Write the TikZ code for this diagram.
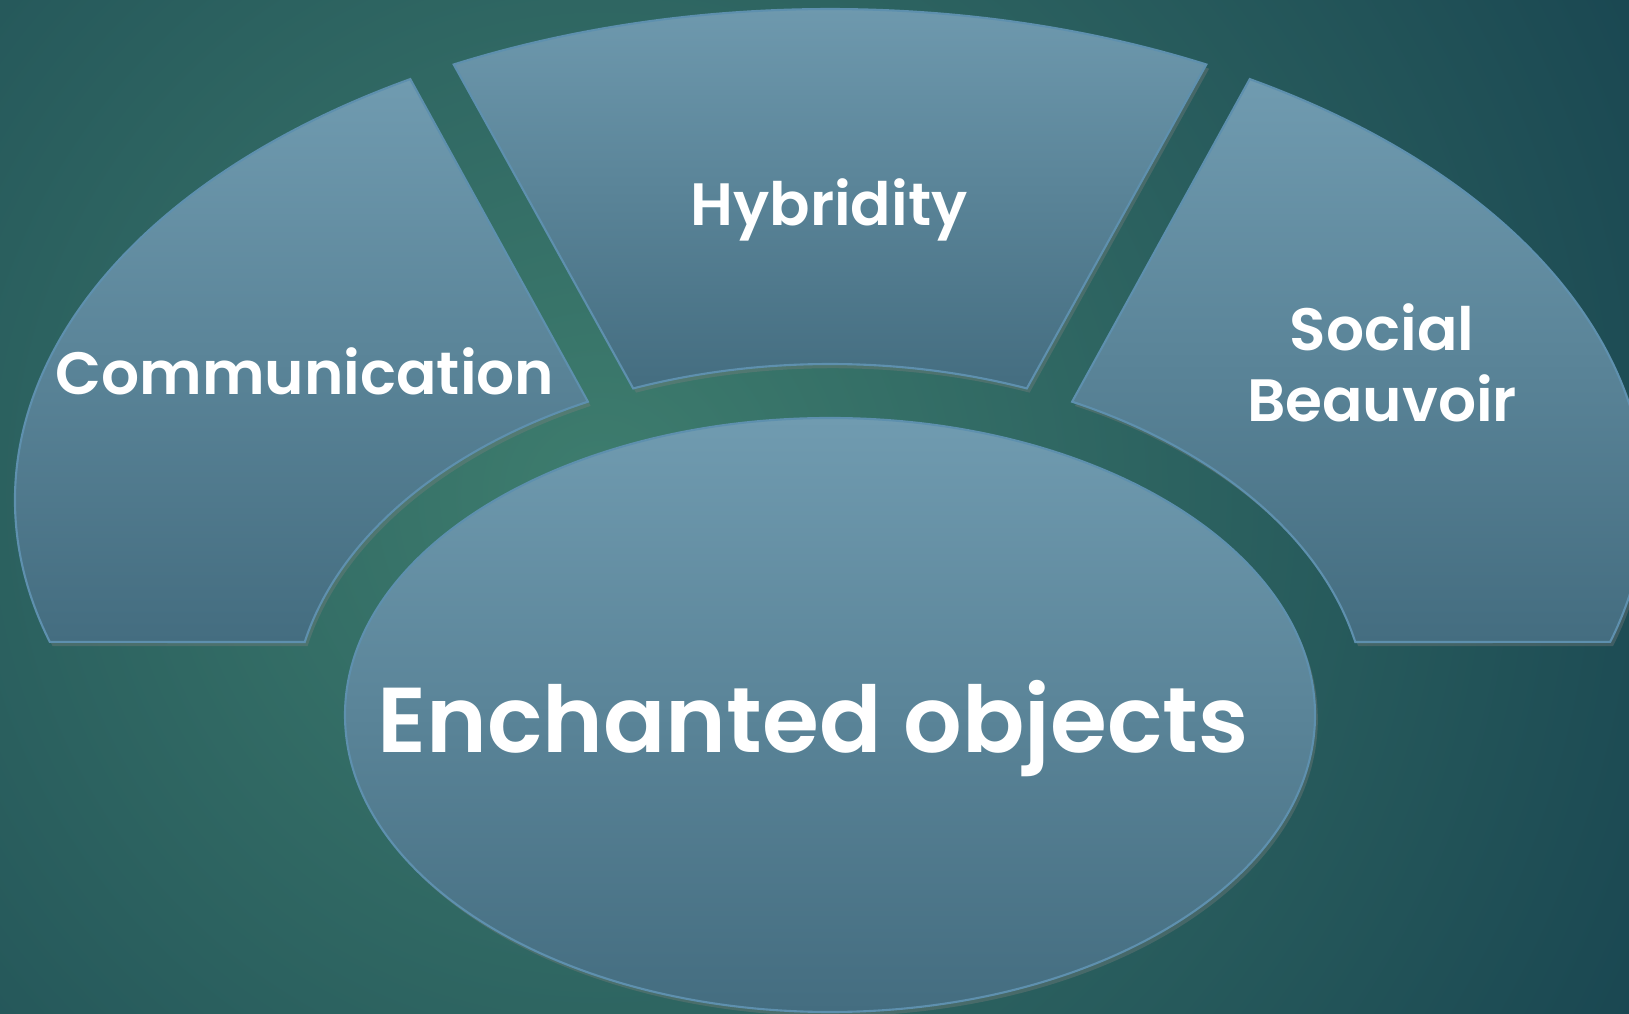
\documentclass[tikz,border=0pt]{standalone}
\usepackage{fontspec}
\setmainfont{Poppins}[BoldFont={Poppins SemiBold}]
\usetikzlibrary{shapes.geometric,shadows}

\definecolor{bgdark}{HTML}{184450}
\definecolor{bglight}{HTML}{3E7D6E}
\definecolor{segtop}{HTML}{709BB0}
\definecolor{segbot}{HTML}{446D80}
\definecolor{segline}{HTML}{5E90AE}

\tikzset{
  segment/.style={top color=segtop, bottom color=segbot, draw=segline, line width=.6pt,
    drop shadow={opacity=.35, shadow xshift=.8pt, shadow yshift=-1.2pt}},
  seglabel/.style={text=white, align=center, font=\fontsize{17}{20.2}\selectfont\bfseries},
  biglabel/.style={text=white, font=\fontsize{26.2}{30}\selectfont\bfseries}
}

\begin{document}
\begin{tikzpicture}

      \useasboundingbox (0,0) rectangle (16.29,10.14);
      \clip (0,0) rectangle (16.29,10.14);
      \fill[bgdark] (0,0) rectangle (16.29,10.14);
      \shade[inner color=bglight, outer color=bgdark] (6.0,5.2) circle (12.2);

      \coordinate (outerc) at (8.30,5.14);
      \coordinate (innerc) at (8.30,2.99);

      \path[segment] ([shift={(outerc)}]196.8:8.15 and 4.91)
        arc[start angle=196.8, end angle=121.0, x radius=8.15, y radius=4.91]
        -- ([shift={(innerc)}]116.8:5.37 and 3.51)
        arc[start angle=116.8, end angle=168.0, x radius=5.37, y radius=3.51] -- cycle;
      \path[segment] ([shift={(outerc)}]117.5:8.15 and 4.91)
        arc[start angle=117.5, end angle=62.5, x radius=8.15, y radius=4.91]
        -- ([shift={(innerc)}]68.5:5.37 and 3.51)
        arc[start angle=68.5, end angle=111.5, x radius=5.37, y radius=3.51] -- cycle;
      \path[segment] ([shift={(outerc)}]-16.8:8.15 and 4.91)
        arc[start angle=-16.8, end angle=59.0, x radius=8.15, y radius=4.91]
        -- ([shift={(innerc)}]63.2:5.37 and 3.51)
        arc[start angle=63.2, end angle=12.0, x radius=5.37, y radius=3.51] -- cycle;

      \node[segment, ellipse, minimum width=9.70cm, minimum height=5.94cm, inner sep=0pt] (enchanted) at (innerc) {};

      \begin{scope}[every node/.style={seglabel}]
        \node[anchor=base] (communication) at (3.05,6.19) {Communication};
        \node[anchor=base] (hybridity)     at (8.29,7.88) {Hybridity};
        \node (social)                     at (13.82,6.51) {Social\\Beauvoir};
      \end{scope}

      \node[biglabel, anchor=base] (objects) at (8.13,2.61) {Enchanted objects};

    \end{tikzpicture}
\end{document}
